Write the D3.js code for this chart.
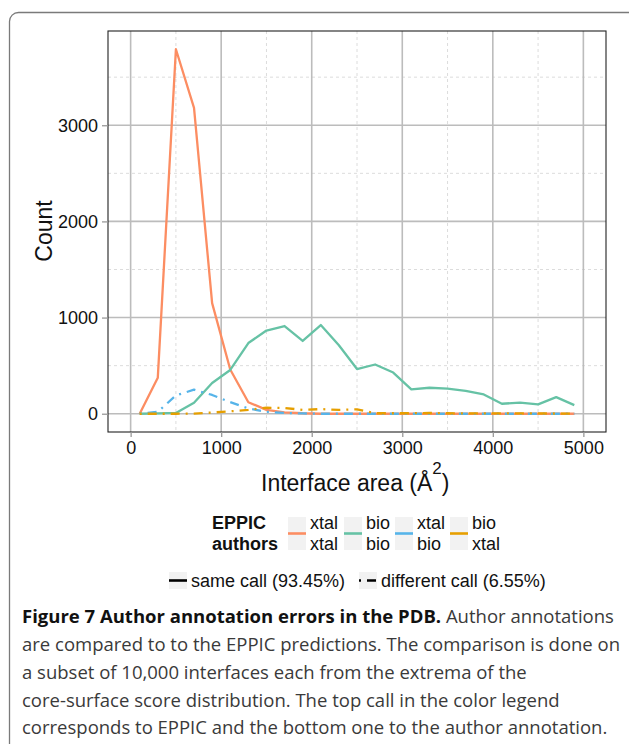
<!DOCTYPE html>
<html>
<head>
<meta charset="utf-8">
<script src="https://cdn.jsdelivr.net/npm/d3@7"></script>
<style>
  body { margin: 0; background: #fff; }
  svg { display: block; }
</style>
</head>
<body>
<svg id="chart"></svg>
<script>
// interface area bins (centres, Å^2)
const area = [100, 300, 500, 700, 900, 1100, 1300, 1500, 1700, 1900, 2100, 2300, 2500,
  2700, 2900, 3100, 3300, 3500, 3700, 3900, 4100, 4300, 4500, 4700, 4900];

// counts, EPPIC call / author call
const xtalXtal = [0, 375, 3790, 3180, 1150, 460, 120, 40, 15, 5, 0, 0, 0,
  0, 0, 0, 0, 0, 0, 0, 0, 0, 0, 0, 0];
const bioBio = [0, 3, 8, 115, 320, 455, 735, 865, 912, 757, 922, 712, 465,
  512, 428, 253, 270, 262, 237, 200, 104, 115, 97, 173, 90];
const xtalBio = [0, 20, 190, 250, 195, 120, 55, 20, 8, 3, 0, 0, 0,
  0, 0, 0, 0, 0, 0, 0, 0, 0, 0, 0, 0];
const bioXtal = [0, 0, 0, 2, 12, 25, 40, 62, 60, 40, 48, 40, 45,
  5, 5, 5, 8, 5, 3, 3, 3, 3, 3, 2, 2];

const xTicks = [0, 1000, 2000, 3000, 4000, 5000];
const yTicks = [0, 1000, 2000, 3000];
const xMinor = [500, 1500, 2500, 3500, 4500];
const yMinor = [500, 1500, 2500, 3500];

const eppicLabels = ['xtal', 'bio', 'xtal', 'bio'];
const authorLabels = ['xtal', 'bio', 'bio', 'xtal'];
const colors = ['#fc8d62', '#66c2a5', '#56b4e9', '#e69f00'];
const callLabels = ['same call (93.45%)', 'different call (6.55%)'];

const captionBold = 'Figure 7 Author annotation errors in the PDB.';
const captionLines = [
  ' Author annotations',
  'are compared to to the EPPIC predictions. The comparison is done on',
  'a subset of 10,000 interfaces each from the extrema of the',
  'core-surface score distribution. The top call in the color legend',
  'corresponds to EPPIC and the bottom one to the author annotation.'
];

const series = [
  { values: xtalXtal, color: colors[0], dash: null },
  { values: bioBio, color: colors[1], dash: null },
  { values: xtalBio, color: colors[2], dash: '2,6,9,6' },
  { values: bioXtal, color: colors[3], dash: '2,6,9,6' }
];

//setting up svg
const W = 629, H = 744;
const svg = d3.select('#chart').attr('width', W).attr('height', H);
const font = '"Liberation Sans", Arial, sans-serif';

svg.append('rect').attr('width', W).attr('height', H).attr('fill', '#fff');

// outer figure frame
svg.append('rect')
  .attr('x', 9.5).attr('y', 12.5)
  .attr('width', 700).attr('height', 800)
  .attr('rx', 9)
  .attr('fill', 'none')
  .attr('stroke', '#7a7a7a')
  .attr('stroke-width', 1.3);

//panel
const pLeft = 108, pRight = 606, pTop = 31, pBottom = 432;

const x = d3.scaleLinear().domain([-250, 5250]).range([pLeft, pRight]);
const y = d3.scaleLinear().domain([-190, 3980]).range([pBottom, pTop]);

const grid = svg.append('g');
grid.selectAll('.xminor').data(xMinor).enter().append('line')
  .attr('x1', d => x(d)).attr('x2', d => x(d))
  .attr('y1', pTop).attr('y2', pBottom)
  .attr('stroke', '#dcdcdc').attr('stroke-width', 1).attr('stroke-dasharray', '3,3');
grid.selectAll('.yminor').data(yMinor).enter().append('line')
  .attr('x1', pLeft).attr('x2', pRight)
  .attr('y1', d => y(d)).attr('y2', d => y(d))
  .attr('stroke', '#dcdcdc').attr('stroke-width', 1).attr('stroke-dasharray', '3,3');
grid.selectAll('.xmajor').data(xTicks).enter().append('line')
  .attr('x1', d => x(d)).attr('x2', d => x(d))
  .attr('y1', pTop).attr('y2', pBottom)
  .attr('stroke', '#bcbcbc').attr('stroke-width', 1.6);
grid.selectAll('.ymajor').data(yTicks).enter().append('line')
  .attr('x1', pLeft).attr('x2', pRight)
  .attr('y1', d => y(d)).attr('y2', d => y(d))
  .attr('stroke', '#bcbcbc').attr('stroke-width', 1.6);

//lines
const line = d3.line()
  .x((d, i) => x(area[i]))
  .y(d => y(d));

series.forEach(s => {
  svg.append('path')
    .datum(s.values)
    .attr('d', line)
    .attr('fill', 'none')
    .attr('stroke', s.color)
    .attr('stroke-width', 2.3)
    .attr('stroke-linejoin', 'round')
    .attr('stroke-dasharray', s.dash);
});

svg.append('rect')
  .attr('x', pLeft).attr('y', pTop)
  .attr('width', pRight - pLeft).attr('height', pBottom - pTop)
  .attr('fill', 'none').attr('stroke', '#222').attr('stroke-width', 1.1);

//axes
const xAxis = d3.axisBottom(x).tickValues(xTicks).tickSize(5).tickPadding(4).tickFormat(d3.format('d'));
const yAxis = d3.axisLeft(y).tickValues(yTicks).tickSize(6).tickPadding(4).tickFormat(d3.format('d'));

const gx = svg.append('g').attr('transform', `translate(0,${pBottom})`).call(xAxis);
const gy = svg.append('g').attr('transform', `translate(${pLeft},0)`).call(yAxis);
[gx, gy].forEach(g => {
  g.select('.domain').remove();
  g.selectAll('line').attr('stroke', '#999').attr('stroke-width', 1.3);
  g.selectAll('text').attr('fill', '#111').style('font-family', font).style('font-size', '18px');
});

//axis titles
svg.append('text')
  .attr('transform', 'translate(52,231) rotate(-90)')
  .attr('text-anchor', 'middle')
  .style('font-family', font).style('font-size', '23px').attr('fill', '#111')
  .text('Count');

const xt = svg.append('text')
  .attr('x', 261).attr('y', 491)
  .style('font-family', font).style('font-size', '23px').attr('fill', '#111');
xt.append('tspan').text('Interface area (Å');
xt.append('tspan').attr('dy', -17).style('font-size', '17px').text('2');
xt.append('tspan').attr('dy', 17).text(')');

//colour legend
svg.append('text').attr('x', 212).attr('y', 529)
  .style('font-family', font).style('font-size', '18px').style('font-weight', 'bold')
  .attr('fill', '#111').text('EPPIC');
svg.append('text').attr('x', 212).attr('y', 550)
  .style('font-family', font).style('font-size', '18px').style('font-weight', 'bold')
  .attr('fill', '#111').text('authors');

const keyX = [288, 344, 395, 450];
const keys = svg.selectAll('.key').data(colors).enter().append('g')
  .attr('transform', (d, i) => `translate(${keyX[i]},0)`);
keys.append('rect').attr('x', 0).attr('y', 517).attr('width', 18).attr('height', 33).attr('fill', '#f2f2f2');
keys.append('line').attr('x1', 0).attr('x2', 18).attr('y1', 533.5).attr('y2', 533.5)
  .attr('stroke', d => d).attr('stroke-width', 2.6);
keys.append('text').attr('x', 22).attr('y', 529)
  .style('font-family', font).style('font-size', '18px').attr('fill', '#111')
  .text((d, i) => eppicLabels[i]);
keys.append('text').attr('x', 22).attr('y', 550)
  .style('font-family', font).style('font-size', '18px').attr('fill', '#111')
  .text((d, i) => authorLabels[i]);

//linetype legend
const ltX = [169, 359];
const lt = svg.selectAll('.lt').data(callLabels).enter().append('g')
  .attr('transform', (d, i) => `translate(${ltX[i]},0)`);
lt.append('rect').attr('x', 0).attr('y', 572).attr('width', 18).attr('height', 17).attr('fill', '#f2f2f2');
lt.append('line').attr('x1', 0).attr('x2', 18).attr('y1', 580.5).attr('y2', 580.5)
  .attr('stroke', '#000').attr('stroke-width', 2.6)
  .attr('stroke-dasharray', (d, i) => i === 0 ? null : '2,6,9,6');
lt.append('text').attr('x', 22).attr('y', 587)
  .style('font-family', font).style('font-size', '18px').attr('fill', '#111')
  .text(d => d);

//caption - font size fitted so the full first line spans the box
const capFont = '"Open Sans", "Noto Sans", sans-serif';
const capY = [623, 651, 679, 707, 734];
const cap = svg.append('g')
  .style('font-family', capFont).style('font-size', '18px').attr('fill', '#3a3a3a');
const first = cap.append('text').attr('x', 22).attr('y', capY[0]);
first.append('tspan').style('font-weight', 'bold').attr('fill', '#111').text(captionBold);
first.append('tspan').text(captionLines[0]);
captionLines.slice(1).forEach((t, i) => {
  cap.append('text').attr('x', 22).attr('y', capY[i + 1]).text(t);
});
const w0 = first.node().getComputedTextLength();
cap.style('font-size', (18 * 592 / w0).toFixed(2) + 'px');
</script>
</body>
</html>
